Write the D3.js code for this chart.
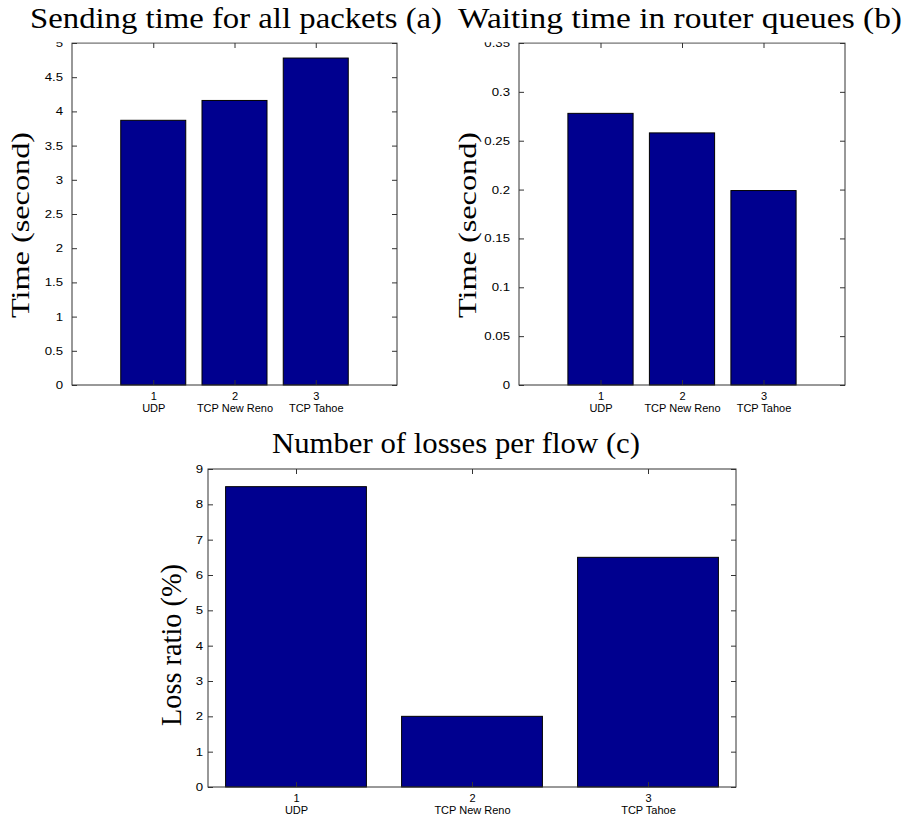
<!DOCTYPE html>
<html>
<head>
<meta charset="utf-8">
<script src="https://cdn.jsdelivr.net/npm/d3@7"></script>
<style>
  html, body { margin: 0; padding: 0; background: #fff; }
  svg { display: block; }
</style>
</head>
<body>
<script>
// Protocols compared in every panel
const categories = ["UDP", "TCP New Reno", "TCP Tahoe"];
const categoryIndex = [1, 2, 3];

// (a) total sending time, seconds
const sendingTime = [3.87, 4.16, 4.78];
const sendingTicks = [0, 0.5, 1, 1.5, 2, 2.5, 3, 3.5, 4, 4.5, 5];

// (b) time spent waiting in router queues, seconds
const waitingTime = [0.278, 0.258, 0.199];
const waitingTicks = [0, 0.05, 0.1, 0.15, 0.2, 0.25, 0.3, 0.35];

// (c) loss ratio per flow, percent
const lossRatio = [8.5, 2.0, 6.5];
const lossTicks = [0, 1, 2, 3, 4, 5, 6, 7, 8, 9];

const W = 908, H = 821;
const barColor = "#00008f";
const axisColor = "#333";
const serif = "'Liberation Serif', 'Times New Roman', serif";

const svg = d3.select("body").append("svg")
  .attr("width", W).attr("height", H)
  .style("font-family", "'Liberation Sans', Arial, sans-serif");

const plots = svg.append("g");
const overlay = svg.append("g");

function panel(cfg) {
  const g = plots.append("g");
  const x = d3.scaleLinear().domain(cfg.xDomain).range([cfg.left, cfg.right]);
  const y = d3.scaleLinear().domain(cfg.yDomain).range([cfg.bottom, cfg.top]);
  const bw = x(0.8) - x(0);

  // bars
  g.selectAll("rect.bar").data(cfg.values).join("rect")
    .attr("class", "bar")
    .attr("x", (d, i) => x(categoryIndex[i]) - bw / 2)
    .attr("y", d => y(d))
    .attr("width", bw)
    .attr("height", d => y(0) - y(d))
    .attr("fill", barColor)
    .attr("stroke", "#000")
    .attr("stroke-width", 1);

  // box
  g.append("rect")
    .attr("x", cfg.left).attr("y", cfg.top)
    .attr("width", cfg.right - cfg.left).attr("height", cfg.bottom - cfg.top)
    .attr("fill", "none").attr("stroke", axisColor).attr("stroke-width", 1);

  const tickStyle = sel => {
    sel.select(".domain").remove();
    sel.selectAll(".tick line").attr("stroke", axisColor);
    sel.selectAll(".tick text").attr("fill", "#000").style("font-size", "11px");
  };

  const leftAxis = g.append("g").attr("transform", `translate(${cfg.left},0)`)
    .call(d3.axisLeft(y).tickValues(cfg.ticks).tickSize(-5).tickPadding(cfg.ypad)
      .tickFormat(d3.format("")))
    .call(tickStyle);
  // tick numerals are slightly wide in this figure
  leftAxis.selectAll(".tick text")
    .attr("transform", "scale(1.2,1)")
    .attr("x", -cfg.ypad / 1.2);

  g.append("g").attr("transform", `translate(${cfg.right},0)`)
    .call(d3.axisRight(y).tickValues(cfg.ticks).tickSize(-5).tickFormat(""))
    .call(tickStyle);
  g.append("g").attr("transform", `translate(0,${cfg.top})`)
    .call(d3.axisTop(x).tickValues(categoryIndex).tickSize(-5).tickFormat(""))
    .call(tickStyle);
  const bottomAxis = g.append("g").attr("transform", `translate(0,${cfg.bottom})`)
    .call(d3.axisBottom(x).tickValues(categoryIndex).tickSize(-5).tickFormat(""))
    .call(tickStyle);

  // two-line category labels under the ticks
  bottomAxis.selectAll(".tick").each(function(d, i) {
    const t = d3.select(this).append("text")
      .attr("text-anchor", "middle").attr("fill", "#000")
      .style("font-size", "11px");
    t.append("tspan").attr("x", 0).attr("y", 15).text(d);
    t.append("tspan").attr("x", 0).attr("y", 27).text(categories[i]);
  });

  // y label
  g.append("text")
    .attr("transform", `translate(${cfg.ylabelX},${cfg.ylabelY}) rotate(-90)`)
    .attr("x", -cfg.ylabelLen / 2)
    .attr("textLength", cfg.ylabelLen)
    .attr("lengthAdjust", "spacingAndGlyphs")
    .style("font-family", serif)
    .style("font-size", cfg.ylabelSize + "px")
    .text(cfg.ylabel);

  // title
  overlay.append("text")
    .attr("x", cfg.titleX - cfg.titleLen / 2).attr("y", cfg.titleY)
    .attr("textLength", cfg.titleLen)
    .attr("lengthAdjust", "spacingAndGlyphs")
    .style("font-family", serif)
    .style("font-size", "30px")
    .text(cfg.title);
}

panel({
  values: sendingTime, ticks: sendingTicks,
  xDomain: [0, 4], yDomain: [0, 5],
  left: 72, right: 397, top: 43, bottom: 385, ypad: 9,
  ylabel: "Time (second)", ylabelX: 29, ylabelY: 225, ylabelLen: 186, ylabelSize: 25,
  title: "Sending time for all packets (a)", titleX: 236, titleY: 28, titleLen: 412
});

panel({
  values: waitingTime, ticks: waitingTicks,
  xDomain: [0, 4], yDomain: [0, 0.35],
  left: 519, right: 845, top: 43, bottom: 385, ypad: 9,
  ylabel: "Time (second)", ylabelX: 476, ylabelY: 225, ylabelLen: 186, ylabelSize: 25,
  title: "Waiting time in router queues (b)", titleX: 680, titleY: 28, titleLen: 444
});

// the strip above the upper panels is blank paper behind the titles
overlay.insert("rect", ":first-child")
  .attr("x", 0).attr("y", 0).attr("width", W).attr("height", 42.3)
  .attr("fill", "#fff");

panel({
  values: lossRatio, ticks: lossTicks,
  xDomain: [0.5, 3.5], yDomain: [0, 9],
  left: 208, right: 736, top: 469, bottom: 787, ypad: 5,
  ylabel: "Loss ratio (%)", ylabelX: 181, ylabelY: 645, ylabelLen: 162, ylabelSize: 29,
  title: "Number of losses per flow (c)", titleX: 456, titleY: 453, titleLen: 368
});
</script>
</body>
</html>
